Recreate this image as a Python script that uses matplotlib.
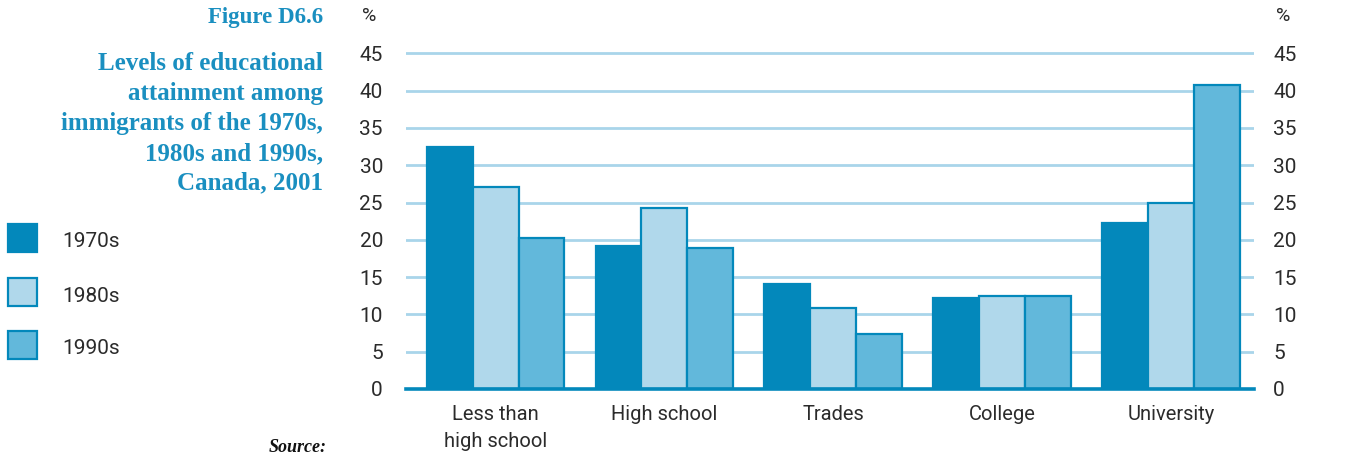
import numpy as np
import matplotlib
matplotlib.use("Agg")
import matplotlib.pyplot as plt
from matplotlib.patches import Rectangle

# Educational attainment shares (%) by immigration decade
categories = ["Less than\nhigh school", "High school", "Trades", "College", "University"]
series_names = ["1970s", "1980s", "1990s"]
values_1970s = [32.5, 19.2, 14.1, 12.2, 22.3]
values_1980s = [27.1, 24.2, 10.8, 12.5, 25.0]
values_1990s = [20.2, 18.9, 7.4, 12.5, 40.7]
y_ticks = [0, 5, 10, 15, 20, 25, 30, 35, 40, 45]

title_lines = ["Levels of educational", "attainment among",
               "immigrants of the 1970s,", "1980s and 1990s,", "Canada, 2001"]

dark = "#0388BB"
light = "#B0D8EB"
mid = "#62B8DB"
grid_col = "#A9D5EA"
text_col = "#2b2b2b"
title_col = "#1A8FC0"

sans = ["Roboto", "DejaVu Sans"]
serif = ["Liberation Serif", "DejaVu Serif"]

W, H = 1364, 456
fig = plt.figure(figsize=(W / 100, H / 100), dpi=100)

# axes box in pixels: x 406..1254, baseline at 390, top at ylim 46
px_per_unit = 7.46
ymax = 46
ax_left, ax_right, base_y = 406, 1254, 390
ax_h = ymax * px_per_unit
ax = fig.add_axes([ax_left / W, (H - base_y) / H, (ax_right - ax_left) / W, ax_h / H])

x = np.arange(len(categories))
bw = 0.272
series = [values_1970s, values_1980s, values_1990s]
fills = [dark, light, mid]
for i, (vals, fc) in enumerate(zip(series, fills)):
    ax.bar(x + (i - 1) * bw, vals, width=bw, color=fc, edgecolor=dark,
           linewidth=1.6, zorder=3, label=series_names[i])

ax.set_xlim(-0.53, 4.49)
ax.set_ylim(0, ymax)

for t in y_ticks[1:]:
    ax.axhline(t, color=grid_col, linewidth=2.0, zorder=1)
ax.axhline(0, color=dark, linewidth=2.6, zorder=4, clip_on=False)

for s in ax.spines.values():
    s.set_visible(False)
ax.tick_params(length=0)
ax.set_yticks(y_ticks)
ax.set_yticklabels([])
ax.set_xticks(x)
ax.set_xticklabels([])

# y tick labels on both sides
for t in y_ticks:
    ypix = base_y - t * px_per_unit
    fig.text(383 / W, 1 - (ypix + 1) / H, str(t), ha="right", va="center",
             fontsize=15, color=text_col, family=sans)
    fig.text(1273 / W, 1 - (ypix + 1) / H, str(t), ha="left", va="center",
             fontsize=15, color=text_col, family=sans)
fig.text(362 / W, 1 - 16 / H, "%", ha="left", va="center", fontsize=14,
         color=text_col, family=sans)
fig.text(1276 / W, 1 - 16 / H, "%", ha="left", va="center", fontsize=14,
         color=text_col, family=sans)

# category labels
for xi, lab in zip(x, categories):
    ax.text(xi, -2.0, lab, ha="center", va="top", fontsize=14.5,
            color=text_col, family=sans, linespacing=1.55,
            transform=ax.transData)

# title block
fig.text(323 / W, 1 - 18 / H, "Figure D6.6", ha="right", va="center",
         fontsize=16.5, fontweight="bold", color=title_col, family=serif)
for k, line in enumerate(title_lines):
    ypix = 64 + k * 29.8
    fig.text(323 / W, 1 - ypix / H, line, ha="right", va="center",
             fontsize=18, fontweight="bold", color=title_col, family=serif)

# legend
leg_y = [239, 293, 346]
for name, fc, yc in zip(series_names, fills, leg_y):
    fig.patches.append(Rectangle((8 / W, 1 - (yc + 14) / H), 29 / W, 28 / H,
                                 transform=fig.transFigure, facecolor=fc,
                                 edgecolor=dark, linewidth=1.6))
    fig.text(62 / W, 1 - (yc + 3) / H, name, ha="left", va="center",
             fontsize=15, color=text_col, family=sans)

fig.text(327 / W, 1 - 439 / H, "Source:", ha="right", va="top",
         fontsize=13, fontweight="bold", fontstyle="italic",
         color="#111111", family=serif)

fig.savefig("out.png", dpi=100)
